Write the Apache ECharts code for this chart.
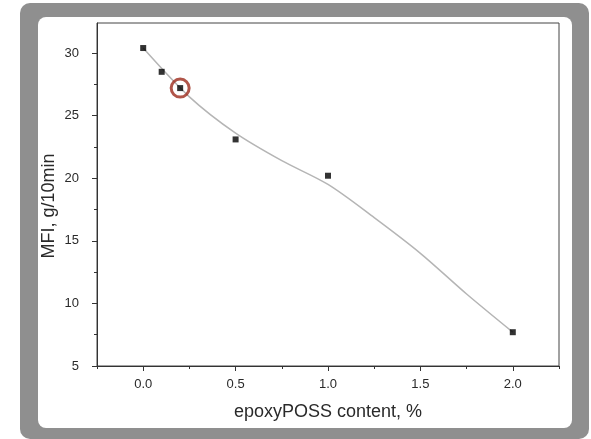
<!DOCTYPE html>
<html>
<head>
<meta charset="utf-8">
<script src="https://cdn.jsdelivr.net/npm/echarts@6/dist/echarts.min.js"></script>
<style>
html,body{margin:0;padding:0;background:#fff;}
#c{width:591px;height:439px;}
</style>
</head>
<body>
<div id="c"></div>
<script>
// Measured data points
const xValues = [0, 0.1, 0.2, 0.5, 1.0, 2.0];
const mfiValues = [30.4, 28.5, 27.2, 23.1, 20.2, 7.7];
// Fitted curve
const curveX = [0, 0.25, 0.5, 0.75, 1.0, 1.25, 1.5, 1.75, 2.0];
const curveY = [30.4, 26.5, 23.6, 21.4, 19.5, 16.85, 14.0, 10.75, 7.7];
// Highlighted point
const highlightX = [0.2];
const highlightY = [27.2];
// Tick values
const xMajorTicks = [0, 0.5, 1.0, 1.5, 2.0];
const xMinorTicks = [-0.25, 0.25, 0.75, 1.25, 1.75, 2.25];
const yMajorTicks = [5, 10, 15, 20, 25, 30];
const yMinorTicks = [7.5, 12.5, 17.5, 22.5, 27.5];

const chart = echarts.init(document.getElementById('c'), null, {renderer: 'canvas'});
const font = 'Liberation Sans, Arial, sans-serif';
const axisCol = '#333';
const textCol = '#2a2a2a';

const xMin = -0.25, xMax = 2.25, yMin = 5, yMax = 32.4;

const option = {
  animation: false,
  backgroundColor: '#fff',
  graphic: [
    {type: 'rect', z: -10, shape: {x: 20, y: 3, width: 569, height: 436, r: 10}, style: {fill: '#8f8f8f'}},
    {type: 'rect', z: -9, shape: {x: 38, y: 17, width: 534, height: 411, r: 8}, style: {fill: '#ffffff'}}
  ],
  grid: {left: 97, right: 32, top: 23, bottom: 73, show: true, borderColor: '#444', borderWidth: 1, backgroundColor: 'transparent'},
  xAxis: [
    {
      type: 'value', position: 'bottom', min: xMin, max: xMax, interval: 0.25,
      name: 'epoxyPOSS content, %', nameLocation: 'middle', nameGap: 37, nameMoveOverlap: false,
      nameTextStyle: {fontFamily: font, fontSize: 18, color: textCol},
      axisLine: {show: true, onZero: false, lineStyle: {color: axisCol, width: 1}},
      axisTick: {show: true, inside: false, length: 5, customValues: xMajorTicks, lineStyle: {color: axisCol}},
      axisLabel: {show: true, margin: 12, customValues: xMajorTicks, fontFamily: font, fontSize: 13, color: textCol,
        formatter: v => v.toFixed(1)},
      splitLine: {show: false}
    },
    {
      type: 'value', position: 'bottom', min: xMin, max: xMax, interval: 0.25,
      axisLine: {show: false, onZero: false},
      axisTick: {show: true, inside: false, length: 3, customValues: xMinorTicks, lineStyle: {color: axisCol}},
      axisLabel: {show: false},
      splitLine: {show: false}
    }
  ],
  yAxis: [
    {
      type: 'value', position: 'left', min: yMin, max: yMax, interval: 5,
      name: 'MFI, g/10min', nameLocation: 'middle', nameGap: 39, nameRotate: 90, nameMoveOverlap: false,
      nameTextStyle: {fontFamily: font, fontSize: 18, color: textCol, padding: [0, 23, 0, 0]},
      axisLine: {show: true, onZero: false, lineStyle: {color: axisCol, width: 1}},
      axisTick: {show: true, inside: false, length: 5, customValues: yMajorTicks, lineStyle: {color: axisCol}},
      axisLabel: {show: true, margin: 18, customValues: yMajorTicks, fontFamily: font, fontSize: 13, color: textCol},
      splitLine: {show: false}
    },
    {
      type: 'value', position: 'left', min: yMin, max: yMax, interval: 5,
      axisLine: {show: false, onZero: false},
      axisTick: {show: true, inside: false, length: 3, customValues: yMinorTicks, lineStyle: {color: axisCol}},
      axisLabel: {show: false},
      splitLine: {show: false}
    }
  ],
  series: [
    {
      type: 'line', xAxisIndex: 0, yAxisIndex: 0, smooth: 0.3, showSymbol: false, symbol: 'none',
      data: curveX.map((x, i) => [x, curveY[i]]),
      lineStyle: {color: '#b5b5b5', width: 1.5}, z: 1
    },
    {
      type: 'scatter', xAxisIndex: 0, yAxisIndex: 0, symbol: 'rect', symbolSize: 6,
      data: xValues.map((x, i) => [x, mfiValues[i]]),
      itemStyle: {color: '#000'}, z: 3
    },
    {
      type: 'scatter', xAxisIndex: 0, yAxisIndex: 0, symbol: 'circle', symbolSize: 18,
      data: highlightX.map((x, i) => [x, highlightY[i]]),
      itemStyle: {color: 'rgba(0,0,0,0)', borderColor: '#9c2b1c', borderWidth: 3}, z: 4
    }
  ]
};
chart.setOption(option);
</script>
</body>
</html>
